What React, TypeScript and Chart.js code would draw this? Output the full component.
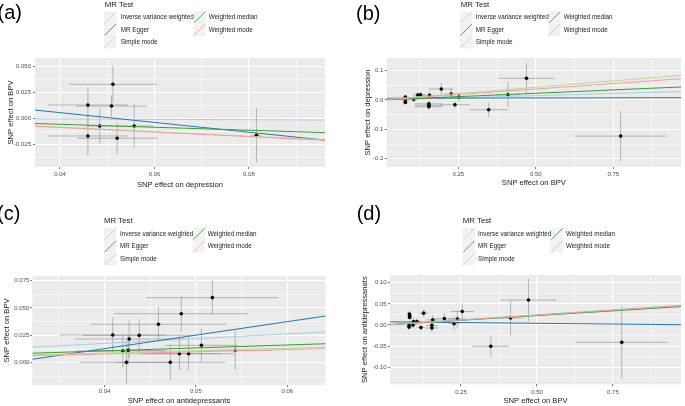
import React, { useEffect, useRef } from 'react';
import { Chart, registerables } from 'chart.js';

Chart.register(...registerables);

const FONT = '"Liberation Sans", Arial, sans-serif';

// ---- Shared legend ----
const METHODS = ['Inverse variance weighted', 'MR Egger', 'Simple mode', 'Weighted median', 'Weighted mode'];
const METHOD_COLORS = ['#a6cee3', '#1f78b4', '#b2df8a', '#33a02c', '#fb9a99'];

// ---- Panel (a): depression -> BPV ----
const aX = [0.0512, 0.0459, 0.0509, 0.0484, 0.0557, 0.0459, 0.0521, 0.0816];
const aY = [0.0327, 0.0128, 0.0118, -0.0074, -0.0074, -0.017, -0.0192, -0.0163];
const aSeX = [0.0093, 0.0085, 0.0075, 0.003, 0.004, 0.0085, 0.0085, 0.001];
const aSeY = [0.018, 0.017, 0.01, 0.017, 0.021, 0.019, 0.015, 0.026];
const aIntercepts = [0, 0.0243, 0, 0, 0];
const aSlopes = [-0.017, -0.4707, -0.215, -0.143, -0.22];
const aXLim = [0.0347, 0.0961];
const aYLim = [-0.0468, 0.058];
const aXMajor = [0.04, 0.06, 0.08];
const aXLabels = ['0.04', '0.06', '0.08'];
const aXMinor = [0.05, 0.07, 0.09];
const aYMajor = [-0.025, 0, 0.025, 0.05];
const aYLabels = ['-0.025', '0.000', '0.025', '0.050'];
const aYMinor = [-0.0375, -0.0125, 0.0125, 0.0375];

// ---- Panel (b): BPV -> depression ----
const bX = [0.079, 0.079, 0.079, 0.106, 0.119, 0.128, 0.157, 0.155, 0.155, 0.155, 0.195, 0.227, 0.252, 0.239, 0.348, 0.41, 0.47, 0.774];
const bY = [0.01, 0.0, -0.008, 0.002, 0.017, 0.018, 0.016, -0.013, -0.018, -0.023, 0.0375, 0.0205, 0.01, -0.016, -0.033, 0.018, 0.074, -0.123];
const bSeX = [0.01, 0.01, 0.01, 0.015, 0.015, 0.015, 0.03, 0.045, 0.045, 0.045, 0.04, 0.02, 0.02, 0.048, 0.061, 0.04, 0.09, 0.147];
const bSeY = [0.008, 0.008, 0.008, 0.01, 0.01, 0.01, 0.012, 0.01, 0.01, 0.01, 0.02, 0.018, 0.017, 0.012, 0.025, 0.043, 0.052, 0.085];
const bIntercepts = [0, 0.006, 0, 0, 0];
const bSlopes = [0.03, 0.002, 0.087, 0.046, 0.075];
const bXLim = [0.0188, 0.9688];
const bYLim = [-0.2283, 0.1433];
const bXMajor = [0.25, 0.5, 0.75];
const bXLabels = ['0.25', '0.50', '0.75'];
const bXMinor = [0.125, 0.375, 0.625, 0.875];
const bYMajor = [-0.2, -0.1, 0, 0.1];
const bYLabels = ['-0.2', '-0.1', '0.0', '0.1'];
const bYMinor = [-0.15, -0.05, 0.05];

// ---- Panel (c): antidepressants -> BPV ----
const cX = [0.0518, 0.0484, 0.0459, 0.0409, 0.0438, 0.0427, 0.042, 0.0426, 0.0424, 0.0472, 0.0482, 0.0492, 0.0506, 0.0543];
const cY = [0.0595, 0.0448, 0.0351, 0.0253, 0.025, 0.0217, 0.0107, 0.0113, 0.0003, 0.0003, 0.0082, 0.0082, 0.0159, 0.0113];
const cSeX = [0.0072, 0.0073, 0.0074, 0.0058, 0.0062, 0.006, 0.005, 0.004, 0.005, 0.006, 0.0045, 0.005, 0.004, 0.004];
const cSeY = [0.016, 0.016, 0.016, 0.016, 0.015, 0.017, 0.015, 0.013, 0.02, 0.016, 0.015, 0.015, 0.015, 0.018];
const cIntercepts = [0, -0.0365, 0, 0, 0];
const cSlopes = [0.44, 1.234, 0.22, 0.27, 0.2];
const cXLim = [0.0321, 0.0642];
const cYLim = [-0.0204, 0.0793];
const cXMajor = [0.04, 0.05, 0.06];
const cXLabels = ['0.04', '0.05', '0.06'];
const cXMinor = [0.035, 0.045, 0.055];
const cYMajor = [0, 0.025, 0.05, 0.075];
const cYLabels = ['0.000', '0.025', '0.050', '0.075'];
const cYMinor = [-0.0125, 0.0125, 0.0375, 0.0625];

// ---- Panel (d): BPV -> antidepressants ----
const dX = [0.08, 0.081, 0.081, 0.079, 0.079, 0.092, 0.094, 0.105, 0.118, 0.127, 0.154, 0.154, 0.157, 0.195, 0.227, 0.238, 0.254, 0.348, 0.413, 0.472, 0.779];
const dY = [0.026, 0.022, 0.018, -0.001, -0.005, 0.0, 0.008, 0.008, -0.006, 0.028, -0.001, -0.007, 0.012, 0.015, 0.003, 0.014, 0.032, -0.0505, 0.0165, 0.059, -0.041];
const dSeX = [0.008, 0.008, 0.008, 0.008, 0.008, 0.01, 0.01, 0.012, 0.012, 0.015, 0.02, 0.02, 0.02, 0.03, 0.02, 0.03, 0.038, 0.06, 0.04, 0.092, 0.152];
const dSeY = [0.008, 0.008, 0.008, 0.008, 0.008, 0.008, 0.008, 0.008, 0.008, 0.01, 0.01, 0.01, 0.012, 0.012, 0.016, 0.02, 0.018, 0.025, 0.041, 0.05, 0.086];
const dIntercepts = [0, 0.0075, 0, 0, 0];
const dSlopes = [0.048, -0.007, 0.044, 0.045, 0.047];
const dXLim = [0.0162, 0.974];
const dYLim = [-0.1402, 0.1182];
const dXMajor = [0.25, 0.5, 0.75];
const dXLabels = ['0.25', '0.50', '0.75'];
const dXMinor = [0.125, 0.375, 0.625, 0.875];
const dYMajor = [-0.1, -0.05, 0, 0.05, 0.1];
const dYLabels = ['-0.10', '-0.05', '0.00', '0.05', '0.10'];
const dYMinor = [-0.125, -0.075, -0.025, 0.025, 0.075];

type Panel = {
  tag: string;
  xTitle: string;
  yTitle: string;
  x: number[]; y: number[]; sx: number[]; sy: number[];
  intercepts: number[]; slopes: number[];
  xLim: number[]; yLim: number[];
  xMajor: number[]; xLabels: string[]; xMinor: number[];
  yMajor: number[]; yLabels: string[]; yMinor: number[];
  box: { left: number; top: number; w: number; h: number };
  area: { l: number; t: number; r: number; b: number };
  xTickPad: number; yTickPad: number; xTitlePad: number; yTitlePad: number;
  leg: { titleX: number; titleY: number; col1: number; col2: number; lab1: number; lab2: number; row0: number; pitch: number };
  tagPos: { x: number; y: number };
};

const PANELS: Panel[] = [
  {
    tag: '(a)', xTitle: 'SNP effect on depression', yTitle: 'SNP effect on BPV',
    x: aX, y: aY, sx: aSeX, sy: aSeY, intercepts: aIntercepts, slopes: aSlopes,
    xLim: aXLim, yLim: aYLim, xMajor: aXMajor, xLabels: aXLabels, xMinor: aXMinor,
    yMajor: aYMajor, yLabels: aYLabels, yMinor: aYMinor,
    box: { left: 0, top: 0, w: 340, h: 200 },
    area: { l: 35, t: 58, r: 325, b: 167 },
    xTickPad: 1.4, yTickPad: 2, xTitlePad: 11, yTitlePad: 6,
    leg: { titleX: 104.7, titleY: 4.6, col1: 104, col2: 193.3, lab1: 120.7, lab2: 208.7, row0: 17.5, pitch: 12.3 },
    tagPos: { x: -2.5, y: 13 },
  },
  {
    tag: '(b)', xTitle: 'SNP effect on BPV', yTitle: 'SNP effect on depression',
    x: bX, y: bY, sx: bSeX, sy: bSeY, intercepts: bIntercepts, slopes: bSlopes,
    xLim: bXLim, yLim: bYLim, xMajor: bXMajor, xLabels: bXLabels, xMinor: bXMinor,
    yMajor: bYMajor, yLabels: bYLabels, yMinor: bYMinor,
    box: { left: 340, top: 0, w: 345, h: 200 },
    area: { l: 46.7, t: 58, r: 345, b: 167 },
    xTickPad: 1.4, yTickPad: 1.4, xTitlePad: 12.5, yTitlePad: 23.7,
    leg: { titleX: 120.7, titleY: 4.6, col1: 120, col2: 208.3, lab1: 135.7, lab2: 223.7, row0: 17.5, pitch: 12.3 },
    tagPos: { x: 16, y: 14 },
  },
  {
    tag: '(c)', xTitle: 'SNP effect on antidepressants', yTitle: 'SNP effect on BPV',
    x: cX, y: cY, sx: cSeX, sy: cSeY, intercepts: cIntercepts, slopes: cSlopes,
    xLim: cXLim, yLim: cYLim, xMajor: cXMajor, xLabels: cXLabels, xMinor: cXMinor,
    yMajor: cYMajor, yLabels: cYLabels, yMinor: cYMinor,
    box: { left: 0, top: 200, w: 340, h: 206 },
    area: { l: 32.3, t: 76, r: 325.7, b: 185 },
    xTickPad: 1.1, yTickPad: 1, xTitlePad: 0.7, yTitlePad: 2.1,
    leg: { titleX: 104, titleY: 20.7, col1: 104, col2: 192.7, lab1: 120, lab2: 207.7, row0: 34, pitch: 12.5 },
    tagPos: { x: -3, y: 14 },
  },
  {
    tag: '(d)', xTitle: 'SNP effect on BPV', yTitle: 'SNP effect on antidepressanats',
    x: dX, y: dY, sx: dSeX, sy: dSeY, intercepts: dIntercepts, slopes: dSlopes,
    xLim: dXLim, yLim: dYLim, xMajor: dXMajor, xLabels: dXLabels, xMinor: dXMinor,
    yMajor: dYMajor, yLabels: dYLabels, yMinor: dYMinor,
    box: { left: 340, top: 200, w: 345, h: 206 },
    area: { l: 50, t: 75, r: 345, b: 184.3 },
    xTickPad: 2.8, yTickPad: 1.3, xTitlePad: 0.5, yTitlePad: 20.4,
    leg: { titleX: 122.7, titleY: 20.7, col1: 122.7, col2: 210.7, lab1: 138, lab2: 226, row0: 34, pitch: 12.5 },
    tagPos: { x: 16.7, y: 14 },
  },
];

const isIn = (arr: number[], v: number) => arr.some((m) => Math.abs(m - v) < 1e-9);

function PanelChart({ p }: { p: Panel }) {
  const ref = useRef<HTMLCanvasElement | null>(null);
  useEffect(() => {
    const canvas = ref.current;
    if (!canvas) return;
    const points = p.x.map((xv, i) => ({ x: xv, y: p.y[i] }));
    const lineSets = METHODS.map((m, i) => ({
      type: 'scatter' as const,
      label: m,
      data: [
        { x: p.xLim[0], y: p.intercepts[i] + p.slopes[i] * p.xLim[0] },
        { x: p.xLim[1], y: p.intercepts[i] + p.slopes[i] * p.xLim[1] },
      ],
      showLine: true,
      borderColor: METHOD_COLORS[i],
      backgroundColor: METHOD_COLORS[i],
      borderWidth: 1,
      pointRadius: 0,
      order: 5 - i,
    }));
    const xTicks = [...p.xMajor, ...p.xMinor].sort((a, b) => a - b);
    const yTicks = [...p.yMajor, ...p.yMinor].sort((a, b) => a - b);

    const grid = (major: number[]) => ({
      color: '#ffffff',
      lineWidth: (ctx: any) => (ctx.tick && isIn(major, ctx.tick.value) ? 1.1 : 0.55),
      tickColor: (ctx: any) => (ctx.tick && isIn(major, ctx.tick.value) ? '#4d4d4d' : 'rgba(0,0,0,0)'),
      tickWidth: 0.8,
      tickLength: 2,
      drawTicks: true,
    });

    const decor = {
      id: 'decor_' + p.tag,
      beforeDraw(chart: any) {
        const { ctx, chartArea: ca } = chart;
        ctx.save();
        ctx.fillStyle = '#EBEBEB';
        ctx.fillRect(ca.left, ca.top, ca.right - ca.left, ca.bottom - ca.top);
        ctx.restore();
      },
      beforeDatasetsDraw(chart: any) {
        const { ctx, chartArea: ca } = chart;
        const xs = chart.scales.x;
        const ys = chart.scales.y;
        ctx.save();
        ctx.beginPath();
        ctx.rect(ca.left, ca.top, ca.right - ca.left, ca.bottom - ca.top);
        ctx.clip();
        ctx.strokeStyle = 'rgba(140,140,140,0.75)';
        ctx.lineWidth = 0.8;
        for (let i = 0; i < p.x.length; i++) {
          const px = xs.getPixelForValue(p.x[i]);
          const py = ys.getPixelForValue(p.y[i]);
          ctx.beginPath();
          ctx.moveTo(xs.getPixelForValue(p.x[i] - p.sx[i]), py);
          ctx.lineTo(xs.getPixelForValue(p.x[i] + p.sx[i]), py);
          ctx.moveTo(px, ys.getPixelForValue(p.y[i] - p.sy[i]));
          ctx.lineTo(px, ys.getPixelForValue(p.y[i] + p.sy[i]));
          ctx.stroke();
        }
        ctx.restore();
      },
      afterDraw(chart: any) {
        const { ctx } = chart;
        const L = p.leg;
        ctx.save();
        ctx.fillStyle = '#000';
        ctx.font = '20px ' + FONT;
        ctx.textBaseline = 'middle';
        ctx.textAlign = 'left';
        ctx.fillText(p.tag, p.tagPos.x, p.tagPos.y);
        ctx.font = '7.8px ' + FONT;
        ctx.fillStyle = '#1a1a1a';
        ctx.fillText('MR Test', L.titleX, L.titleY);
        const slots = METHODS.map((m, i) => {
          const col = i < 3 ? 0 : 1;
          const row = i < 3 ? i : i - 3;
          return {
            m,
            i,
            kx: col === 0 ? L.col1 : L.col2,
            lx: col === 0 ? L.lab1 : L.lab2,
            cy: L.row0 + row * L.pitch,
          };
        });
        // keys first
        slots.forEach(({ i, kx, cy }) => {
          const ks = L.pitch;
          const ky = cy - ks / 2;
          ctx.fillStyle = '#F2F2F2';
          ctx.fillRect(kx, ky, ks, ks);
          ctx.strokeStyle = METHOD_COLORS[i];
          ctx.lineWidth = 0.8;
          ctx.beginPath();
          ctx.moveTo(kx + 0.5, ky + ks - 0.5);
          ctx.lineTo(kx + ks - 0.5, ky + 0.5);
          ctx.stroke();
        });
        // then labels
        ctx.font = '6.3px ' + FONT;
        ctx.fillStyle = '#222';
        slots.forEach(({ m, lx, cy }) => {
          ctx.fillText(m, lx, cy);
        });
        ctx.restore();
      },
    };

    const chart = new Chart(canvas, {
      type: 'scatter',
      data: {
        datasets: [
          {
            type: 'scatter',
            label: 'SNPs',
            data: points,
            pointRadius: 1.8,
            pointBackgroundColor: '#000',
            pointBorderWidth: 0,
            order: 10,
          } as any,
          ...lineSets,
        ],
      },
      options: {
        responsive: false,
        maintainAspectRatio: false,
        animation: false,
        devicePixelRatio: 1,
        layout: {
          padding: { left: 0, top: p.area.t, right: p.box.w - p.area.r, bottom: 0 },
        },
        plugins: { legend: { display: false }, tooltip: { enabled: false }, title: { display: false } },
        scales: {
          x: {
            type: 'linear',
            position: 'bottom',
            min: p.xLim[0],
            max: p.xLim[1],
            afterFit: (s: any) => { s.height = p.box.h - p.area.b; },
            afterBuildTicks: (s: any) => { s.ticks = xTicks.map((v) => ({ value: v })); },
            ticks: {
              autoSkip: false,
              maxRotation: 0,
              padding: p.xTickPad,
              color: '#4d4d4d',
              font: { family: FONT, size: 6, lineHeight: 1.2 },
              callback: (v: any) => { const k = p.xMajor.findIndex((m) => Math.abs(m - v) < 1e-9); return k >= 0 ? p.xLabels[k] : ''; },
            },
            grid: grid(p.xMajor) as any,
            border: { display: false },
            title: {
              display: true,
              text: p.xTitle,
              color: '#1a1a1a',
              font: { family: FONT, size: 7.6, lineHeight: 1.2 },
              padding: { top: 0, bottom: p.xTitlePad },
            },
          },
          y: {
            type: 'linear',
            position: 'left',
            min: p.yLim[0],
            max: p.yLim[1],
            afterFit: (s: any) => { s.width = p.area.l; },
            afterBuildTicks: (s: any) => { s.ticks = yTicks.map((v) => ({ value: v })); },
            ticks: {
              autoSkip: false,
              padding: p.yTickPad,
              color: '#4d4d4d',
              font: { family: FONT, size: 6, lineHeight: 1.2 },
              callback: (v: any) => { const k = p.yMajor.findIndex((m) => Math.abs(m - v) < 1e-9); return k >= 0 ? p.yLabels[k] : ''; },
            },
            grid: grid(p.yMajor) as any,
            border: { display: false },
            title: {
              display: true,
              text: p.yTitle,
              color: '#1a1a1a',
              font: { family: FONT, size: 7.6, lineHeight: 1.2 },
              padding: { top: p.yTitlePad, bottom: 0 },
            },
          },
        },
      },
      plugins: [decor as any],
    });
    return () => chart.destroy();
  }, [p]);
  return (
    <canvas
      ref={ref}
      width={p.box.w}
      height={p.box.h}
      style={{ position: 'absolute', left: p.box.left, top: p.box.top, width: p.box.w, height: p.box.h }}
    />
  );
}

export default function App() {
  return (
    <div style={{ position: 'absolute', left: 0, top: 0, width: 685, height: 406, background: '#fff', overflow: 'hidden' }}>
      {PANELS.map((p) => (
        <PanelChart key={p.tag} p={p} />
      ))}
    </div>
  );
}
